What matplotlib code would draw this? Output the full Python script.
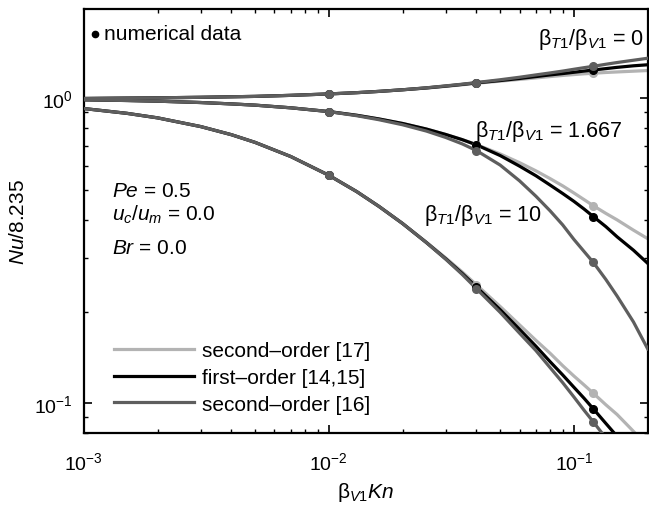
import numpy as np
import matplotlib
matplotlib.use("Agg")
import matplotlib.pyplot as plt

plt.rcParams['font.family'] = ['Liberation Sans', 'DejaVu Sans']
plt.rcParams['mathtext.fontset'] = 'custom'
plt.rcParams['mathtext.rm'] = 'Liberation Sans'
plt.rcParams['mathtext.it'] = 'Liberation Sans:italic'
plt.rcParams['mathtext.bf'] = 'Liberation Sans:bold'

# slip parameter beta_V1*Kn where the curves were sampled
kn = [0.001, 0.0015, 0.002, 0.003, 0.004, 0.005, 0.007, 0.01, 0.013, 0.016, 0.02,
      0.025, 0.03, 0.035, 0.04, 0.05, 0.06, 0.07, 0.08, 0.09, 0.1, 0.11, 0.12,
      0.135, 0.15, 0.175, 0.2]

# beta_T1/beta_V1 = 0
nu0_sec17 = [1.0, 1.003, 1.005, 1.009, 1.013, 1.016, 1.024, 1.035, 1.045, 1.055, 1.068,
             1.082, 1.096, 1.109, 1.122, 1.14, 1.155, 1.168, 1.18, 1.19, 1.198, 1.205, 1.21,
             1.217, 1.222, 1.229, 1.235]
nu0_first = [1.0, 1.003, 1.005, 1.009, 1.013, 1.016, 1.024, 1.035, 1.045, 1.055, 1.068,
             1.083, 1.098, 1.112, 1.125, 1.145, 1.163, 1.18, 1.195, 1.207, 1.219, 1.23, 1.24,
             1.253, 1.265, 1.28, 1.29]
nu0_sec16 = [1.0, 1.003, 1.005, 1.009, 1.013, 1.016, 1.024, 1.035, 1.045, 1.055, 1.068,
             1.084, 1.1, 1.114, 1.128, 1.152, 1.174, 1.195, 1.213, 1.23, 1.247, 1.262, 1.275,
             1.295, 1.312, 1.335, 1.355]

# beta_T1/beta_V1 = 1.667
nu1_sec17 = [0.990, 0.985, 0.980, 0.970, 0.960, 0.951, 0.932, 0.906, 0.881, 0.857, 0.828,
             0.794, 0.762, 0.733, 0.706, 0.658, 0.616, 0.579, 0.546, 0.517, 0.490, 0.466, 0.445,
             0.42, 0.40, 0.37, 0.347]
nu1_first = [0.990, 0.985, 0.980, 0.970, 0.960, 0.951, 0.932, 0.906, 0.881, 0.857, 0.828,
             0.794, 0.762, 0.733, 0.705, 0.65, 0.60, 0.558, 0.52, 0.488, 0.46, 0.434, 0.41,
             0.38, 0.352, 0.318, 0.288]
nu1_sec16 = [0.990, 0.985, 0.980, 0.970, 0.960, 0.951, 0.932, 0.906, 0.878, 0.852, 0.82,
             0.782, 0.745, 0.71, 0.675, 0.605, 0.537, 0.478, 0.428, 0.385, 0.345, 0.315, 0.29,
             0.255, 0.225, 0.185, 0.151]

# beta_T1/beta_V1 = 10
nu10_sec17 = [0.927, 0.894, 0.864, 0.809, 0.761, 0.718, 0.645, 0.56, 0.495, 0.443, 0.389,
              0.338, 0.30, 0.27, 0.245, 0.208, 0.181, 0.161, 0.146, 0.133, 0.123, 0.115, 0.108,
              0.099, 0.092, 0.081, 0.072]
nu10_first = [0.927, 0.894, 0.864, 0.809, 0.761, 0.718, 0.645, 0.56, 0.495, 0.443, 0.389,
              0.337, 0.298, 0.267, 0.241, 0.203, 0.175, 0.154, 0.137, 0.124, 0.113, 0.104, 0.096,
              0.086, 0.078, 0.068, 0.06]
nu10_sec16 = [0.927, 0.894, 0.864, 0.809, 0.761, 0.718, 0.645, 0.56, 0.495, 0.443, 0.389,
              0.337, 0.297, 0.265, 0.238, 0.199, 0.170, 0.149, 0.131, 0.117, 0.105, 0.095, 0.087,
              0.077, 0.069, 0.058, 0.05]

# numerical data points
kn_num = [0.01, 0.04, 0.12]
num_sec17 = [[1.035, 1.122, 1.21], [0.906, 0.706, 0.445], [0.56, 0.245, 0.108]]
num_first = [[1.035, 1.125, 1.24], [0.906, 0.705, 0.41], [0.56, 0.241, 0.096]]
num_sec16 = [[1.035, 1.128, 1.275], [0.906, 0.675, 0.29], [0.56, 0.238, 0.087]]

light = '#b3b3b3'
dark = '#5e5e5e'

fig = plt.figure(figsize=(6.49, 5.10), dpi=100)
ax = fig.add_axes([0.129, 0.149, 0.869, 0.832])

groups = [(nu0_sec17, nu0_first, nu0_sec16),
          (nu1_sec17, nu1_first, nu1_sec16),
          (nu10_sec17, nu10_first, nu10_sec16)]
for i, (a, b, c) in enumerate(groups):
    lab = i == 0
    ax.plot(kn, a, color=light, lw=2.3, label='second\u2013order [17]' if lab else None, zorder=2)
    ax.plot(kn, b, color='black', lw=2.3, label='first\u2013order [14,15]' if lab else None, zorder=3)
    ax.plot(kn, c, color=dark, lw=2.3, label='second\u2013order [16]' if lab else None, zorder=4)
    ax.plot(kn_num, num_sec17[i], 'o', color=light, ms=5.5, zorder=5)
    ax.plot(kn_num, num_first[i], 'o', color='black', ms=5.5, zorder=6)
    ax.plot(kn_num, num_sec16[i], 'o', color=dark, ms=5.5, zorder=7)

ax.set_xscale('log')
ax.set_yscale('log')
ax.set_xlim(1e-3, 0.2)
ax.set_ylim(0.08, 1.97)

ax.set_xticks([1e-3, 1e-2, 1e-1])
ax.set_yticks([1e-1, 1e0])
ax.tick_params(which='both', direction='in', top=True, right=True, labelsize=14)
ax.tick_params(which='major', length=6, width=1.2)
ax.tick_params(axis='x', which='major', pad=13)
ax.tick_params(axis='y', which='major', pad=8)
ax.tick_params(which='minor', length=3, width=1.0)
ax.tick_params(axis='y', which='minor', labelleft=False)
for s in ax.spines.values():
    s.set_linewidth(1.6)

ax.set_xlabel(r'$\mathrm{\beta}_{\mathit{V1}}Kn$', fontsize=15, labelpad=5)
ax.set_ylabel(r'$Nu$/8.235', fontsize=15, labelpad=4)

leg = ax.legend(loc='lower left', bbox_to_anchor=(0.039, 0.026), frameon=False,
                fontsize=15, handlelength=3.85, handletextpad=0.35, labelspacing=0.37,
                borderaxespad=0.0)

# numerical data marker key
ax.plot([0.00111], [1.63], 'o', color='black', ms=4.5)
ax.text(0.00121, 1.63, 'numerical data', fontsize=15, va='center', ha='left')

ratio = r'$\mathrm{\beta}_{\mathit{T1}}/\mathrm{\beta}_{\mathit{V1}}$'
ax.text(0.993, 0.93, ratio + ' = 0', transform=ax.transAxes,
        fontsize=15.5, ha='right', va='center')
ax.text(0.0395, 0.785, ratio + ' = 1.667', fontsize=15.5, ha='left', va='center')
ax.text(0.0245, 0.415, ratio + ' = 10', fontsize=15.5, ha='left', va='center')

ax.text(0.00131, 0.50, r'$Pe$ = 0.5', fontsize=15, ha='left', va='center')
ax.text(0.00131, 0.42, r'$u_c$/$u_m$ = 0.0', fontsize=15, ha='left', va='center')
ax.text(0.00131, 0.325, r'$Br$ = 0.0', fontsize=15, ha='left', va='center')

fig.savefig('out.png', dpi=100)
